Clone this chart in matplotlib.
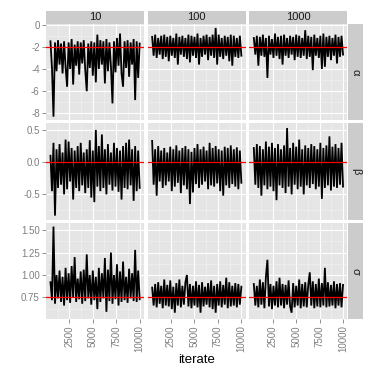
import matplotlib
matplotlib.use('Agg')

import numpy as np
import matplotlib.pyplot as plt

plt.rcParams['font.family'] = ['Liberation Sans', 'DejaVu Sans']

columns = ['10', '100', '1000']
params = ['\u03b1', '\u03b2', '\u03c3']
true_values = [-2.0, 0.0, 0.75]
first_iter, last_iter = 500, 10000

# traces (alternating upper / lower excursions)
alpha_10 = [-1.5, -3.9, -8.3, -1.6, -4.2, -1.4, -3.6, -1.7, -4.4, -1.5, -3.8, -5.6, -1.6, -4.0, -1.3,
            -5.4, -1.8, -3.7, -1.5, -4.5, -1.6, -3.5, -1.4, -4.1, -6.0, -1.7, -3.9, -1.5, -4.6, -1.6,
            -5.2, -0.9, -4.0, -1.4, -3.6, -1.5, -5.3, -1.3, -4.2, -1.6, -3.8, -7.1, -1.5, -4.3, -1.2,
            -3.7, -0.8, -4.4, -5.6, -1.5, -3.9, -1.4, -4.7, -1.6, -3.6, -1.3, -6.8, -1.5, -4.8, -1.7]
alpha_100 = [-1.1, -2.8, -0.9, -3.0, -1.2, -2.7, -1.0, -3.1, -0.9, -2.9, -1.1, -3.3, -1.0, -2.8, -1.2,
             -3.0, -0.8, -3.6, -1.1, -2.7, -1.0, -2.9, -1.2, -3.1, -0.9, -3.4, -1.0, -2.8, -1.1, -3.0,
             -0.8, -3.6, -1.2, -2.9, -1.0, -2.7, -0.9, -3.2, -1.1, -2.8, -0.9, -3.0, -0.3, -3.6, -0.9,
             -2.9, -1.2, -3.1, -1.0, -2.8, -1.1, -3.3, -0.9, -3.7, -1.0, -2.9, -1.2, -3.0, -1.0, -2.8]
alpha_1000 = [-1.2, -2.7, -1.0, -3.7, -1.1, -2.8, -0.9, -2.9, -1.2, -4.8, -1.0, -2.7, -1.3, -3.0, -0.8,
              -2.8, -1.1, -3.1, -1.0, -3.6, -0.9, -2.8, -1.2, -3.0, -1.0, -2.7, -1.1, -3.2, -0.9, -2.9,
              -1.0, -3.0, -1.2, -2.8, -0.5, -3.1, -1.0, -2.9, -1.1, -4.1, -0.9, -2.8, -1.2, -3.0, -1.0,
              -4.0, -0.8, -3.8, -1.1, -2.9, -1.0, -3.2, -1.2, -2.8, -0.9, -3.5, -1.1, -2.9, -1.0, -2.7]
beta_10 = [0.10, -0.45, 0.30, -0.83, 0.20, -0.40, 0.28, -0.35, 0.15, -0.50, 0.35, -0.42, 0.32, -0.30, 0.22,
           -0.58, 0.18, -0.40, 0.25, -0.45, 0.30, -0.36, 0.15, -0.48, 0.20, -0.40, 0.34, -0.55, 0.18, -0.62,
           0.50, -0.38, 0.25, -0.45, 0.43, -0.40, 0.20, -0.50, 0.28, -0.35, 0.15, -0.44, 0.30, -0.38, 0.22,
           -0.46, 0.18, -0.58, 0.25, -0.40, 0.30, -0.42, 0.35, -0.36, 0.20, -0.60, 0.25, -0.45, 0.18, -0.40]
beta_100 = [0.33, -0.35, 0.20, -0.52, 0.25, -0.30, 0.18, -0.40, 0.22, -0.36, 0.15, -0.30, 0.24, -0.45, 0.20,
            -0.38, 0.26, -0.32, 0.18, -0.48, 0.22, -0.36, 0.25, -0.42, 0.20, -0.65, 0.16, -0.47, 0.22, -0.34,
            0.28, -0.40, 0.20, -0.35, 0.24, -0.30, 0.18, -0.42, 0.30, -0.36, 0.22, -0.38, 0.25, -0.33, 0.20,
            -0.45, 0.18, -0.52, 0.24, -0.36, 0.22, -0.40, 0.26, -0.34, 0.20, -0.38, 0.23, -0.42, 0.18, -0.32]
beta_1000 = [0.22, -0.35, 0.28, -0.40, 0.25, -0.52, 0.20, -0.36, 0.32, -0.42, 0.24, -0.38, 0.30, -0.45, 0.22,
             -0.59, 0.28, -0.36, 0.20, -0.40, 0.26, -0.48, 0.53, -0.38, 0.22, -0.50, 0.30, -0.35, 0.24, -0.42,
             0.35, -0.38, 0.20, -0.50, 0.26, -0.36, 0.22, -0.40, 0.28, -0.34, 0.25, -0.42, 0.20, -0.38, 0.30,
             -0.57, 0.22, -0.40, 0.26, -0.36, 0.40, -0.44, 0.24, -0.38, 0.28, -0.40, 0.22, -0.35, 0.30, -0.38]
sigma_10 = [0.92, 0.72, 1.54, 0.68, 1.00, 0.74, 1.05, 0.70, 0.98, 0.66, 1.08, 0.72, 1.02, 0.69, 1.10,
            0.75, 1.20, 0.70, 0.96, 0.73, 1.04, 0.68, 1.06, 0.71, 1.23, 0.74, 1.00, 0.67, 1.05, 0.72,
            0.98, 0.62, 1.08, 0.70, 1.02, 0.74, 1.19, 0.59, 1.06, 0.71, 1.25, 0.68, 1.00, 0.73, 1.12,
            0.66, 1.04, 0.70, 1.15, 0.72, 0.98, 0.69, 1.07, 0.74, 1.02, 0.71, 1.28, 0.70, 1.05, 0.73]
sigma_100 = [0.86, 0.66, 0.90, 0.64, 0.92, 0.68, 0.88, 0.63, 0.95, 0.66, 0.89, 0.65, 0.94, 0.62, 0.87,
             0.58, 0.91, 0.66, 0.95, 0.64, 0.88, 0.67, 0.92, 1.00, 0.65, 0.90, 0.63, 0.88, 0.66, 0.93,
             0.64, 0.89, 0.58, 0.92, 0.65, 0.87, 0.67, 0.91, 0.64, 0.94, 0.62, 0.88, 0.58, 0.90, 0.66,
             0.93, 0.64, 0.89, 0.67, 0.97, 0.63, 0.92, 0.65, 0.88, 0.66, 0.91, 0.64, 0.90, 0.67, 0.87]
sigma_1000 = [0.90, 0.66, 0.88, 0.64, 0.95, 0.67, 0.92, 0.63, 0.98, 1.17, 0.65, 0.90, 0.62, 0.88, 0.66,
              0.93, 0.64, 0.97, 0.66, 0.90, 0.63, 0.89, 0.67, 0.94, 0.65, 0.58, 0.91, 0.64, 0.88, 0.66,
              0.95, 0.63, 0.90, 0.65, 0.92, 0.64, 0.89, 1.03, 0.66, 0.93, 0.63, 0.90, 0.65, 0.96, 0.64,
              0.91, 0.66, 1.08, 0.64, 0.92, 0.65, 0.89, 0.66, 0.93, 0.63, 0.90, 0.66, 0.91, 0.64, 0.89]

traces = [[alpha_10, alpha_100, alpha_1000],
          [beta_10, beta_100, beta_1000],
          [sigma_10, sigma_100, sigma_1000]]

y_limits = [(-8.6, 0.06), (-0.89, 0.6), (0.51, 1.58)]
y_major = [[0, -2, -4, -6, -8], [0.5, 0.0, -0.5], [0.75, 1.0, 1.25, 1.5]]
y_minor = [[-1, -3, -5, -7], [0.25, -0.25, -0.75], [0.625, 0.875, 1.125, 1.375]]
y_fmt = ['%d', '%.1f', '%.2f']
x_major = [2500, 5000, 7500, 10000]
x_minor = [1250, 3750, 6250, 8750]

bg = '#E5E5E5'
strip_bg = '#CCCCCC'
grey50 = '#7F7F7F'

fig = plt.figure(figsize=(3.74, 3.74), dpi=100)
axes = fig.subplots(3, 3, sharex=True, sharey='row')
plt.subplots_adjust(left=46/374, right=347.5/374, top=1-24/374, bottom=1-319/374,
                    wspace=0.036, hspace=0.036)

for r in range(3):
    for c in range(3):
        ax = axes[r, c]
        vals = traces[r][c]
        iters = np.linspace(first_iter, last_iter, len(vals))
        ax.set_facecolor(bg)
        for s in ax.spines.values():
            s.set_visible(False)
        ax.set_xticks(x_major)
        ax.set_xticks(x_minor, minor=True)
        ax.set_yticks(y_major[r])
        ax.set_yticks(y_minor[r], minor=True)
        ax.grid(which='major', color='white', lw=0.8)
        ax.grid(which='minor', color='#F2F2F2', lw=0.4)
        ax.set_axisbelow(True)
        ax.plot(iters, vals, color='black', lw=1.3, solid_joinstyle='miter')
        ax.axhline(true_values[r], color='red', lw=0.9)
        ax.set_xlim(25, 10475)
        ax.set_ylim(*y_limits[r])
        ax.yaxis.set_major_formatter(matplotlib.ticker.FormatStrFormatter(y_fmt[r]))
        ax.tick_params(which='minor', length=0)
        ax.tick_params(which='major', length=3, width=0.6, color=grey50,
                       labelcolor=grey50, labelsize=7, pad=1.5)
        if c > 0:
            ax.tick_params(axis='y', length=0, labelleft=False)
        if r < 2:
            ax.tick_params(axis='x', length=0, labelbottom=False)
        else:
            for lab in ax.get_xticklabels():
                lab.set_rotation(90)

# facet strips
for c in range(3):
    pos = axes[0, c].get_position()
    sax = fig.add_axes([pos.x0, pos.y1, pos.width, 13/374])
    sax.set_facecolor(strip_bg)
    sax.set_xticks([]); sax.set_yticks([])
    for s in sax.spines.values():
        s.set_visible(False)
    sax.text(0.5, 0.5, columns[c], ha='center', va='center', fontsize=8, color='#1A1A1A')
for r in range(3):
    pos = axes[r, 2].get_position()
    sax = fig.add_axes([pos.x1 + 1/374, pos.y0, 15/374, pos.height])
    sax.set_facecolor(strip_bg)
    sax.set_xticks([]); sax.set_yticks([])
    for s in sax.spines.values():
        s.set_visible(False)
    sax.text(0.5, 0.5, params[r], ha='center', va='center', rotation=-90, fontsize=8, color='#1A1A1A')

fig.text(196.5/374, 1-360/374, 'iterate', ha='center', va='center', fontsize=9.5)

plt.savefig('out.png', dpi=100)
